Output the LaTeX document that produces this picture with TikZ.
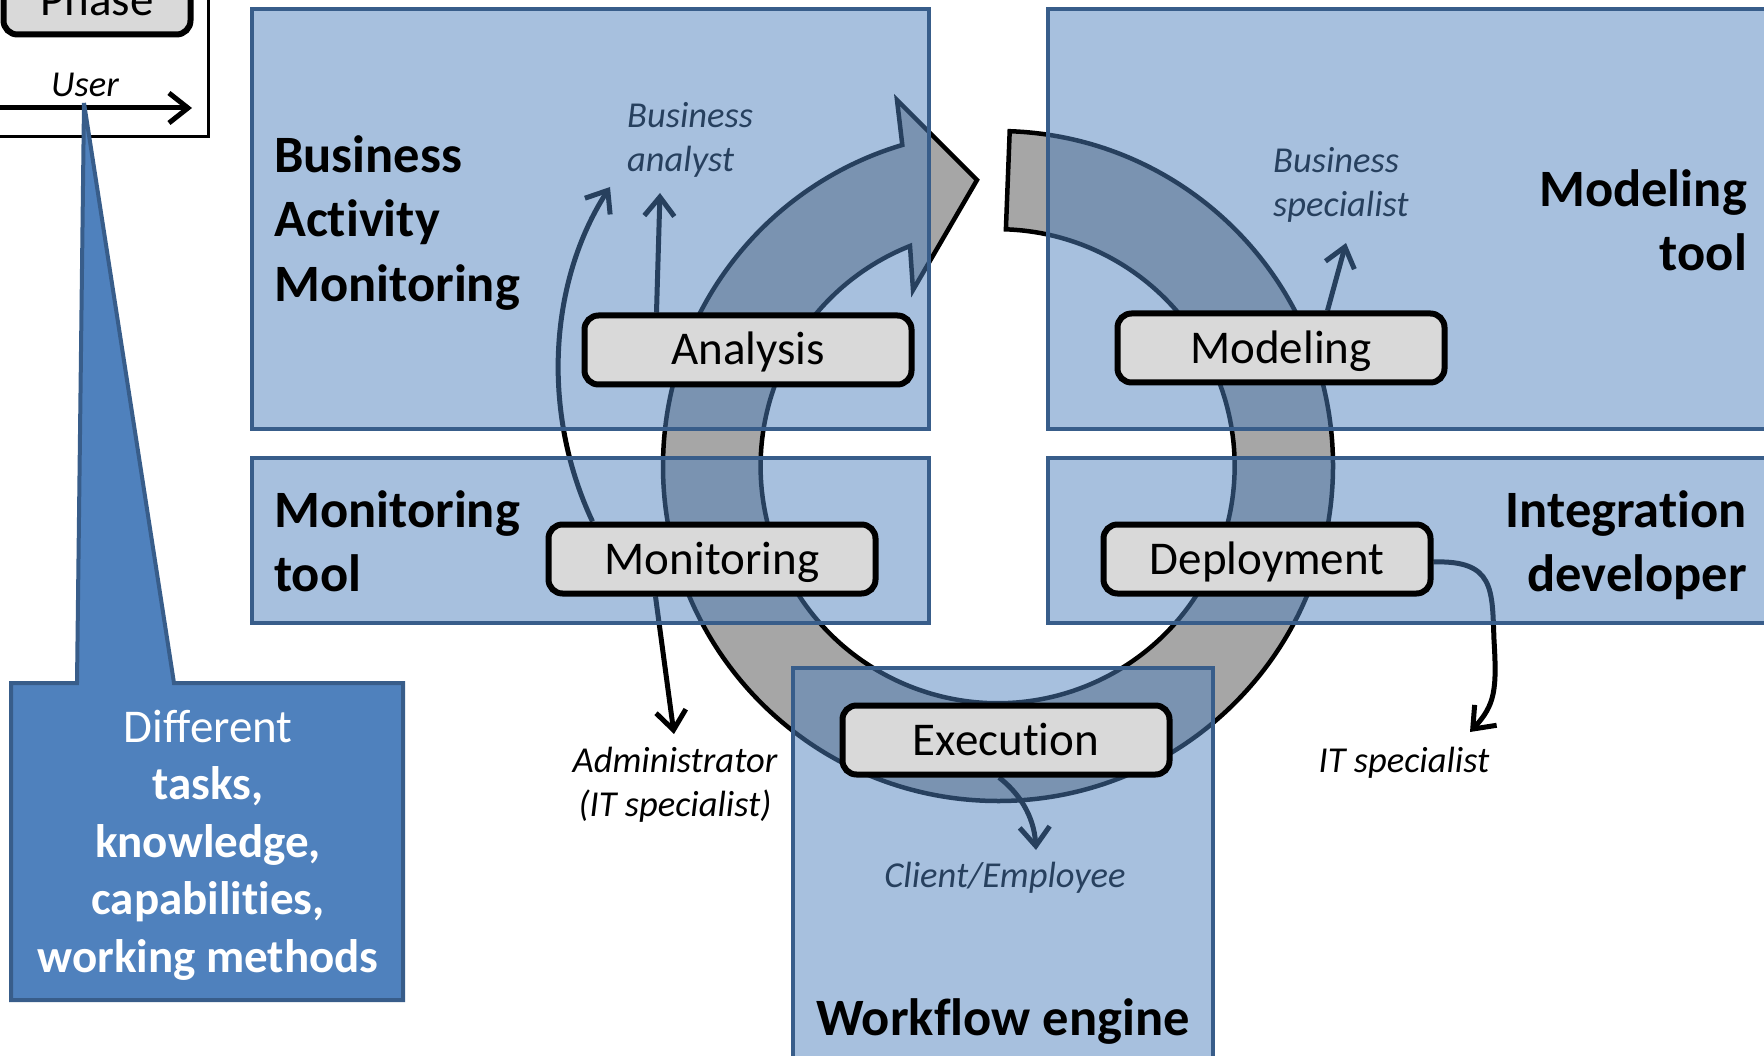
\documentclass[tikz,border=0pt]{standalone}
\usepackage{fontspec}
\setmainfont{Carlito}[Ligatures=NoCommon]
\usetikzlibrary{arrows.meta,calc}
\definecolor{boxfill}{HTML}{4F81BD}
\definecolor{boxline}{HTML}{385D8A}
\definecolor{ringfill}{HTML}{A6A6A6}
\definecolor{phasefill}{HTML}{D9D9D9}
\pgfdeclarelayer{ringlayer}
\pgfdeclarelayer{annolayer}
\pgfdeclarelayer{boxlayer}
\pgfsetlayers{ringlayer,annolayer,boxlayer,main}
\newcommand\tstrut{\rule{0pt}{0.8em}}
\tikzset{
  phasebox/.style={draw=black, line width=6pt, fill=phasefill, rounded corners=14pt,
    minimum width=327pt, minimum height=69pt, inner sep=0pt, text height=30pt, text depth=0pt,
    font=\fontsize{47}{57}\selectfont},
  region/.style={draw=boxline, line width=4.5pt, fill=boxfill, fill opacity=0.5, draw opacity=1},
  annot/.style={draw=black, line width=5pt, -{Straight Barb[length=19pt, width=30pt]}},
  roletext/.style={font=\fontsize{36.5}{44.5}\selectfont\itshape, inner sep=0pt},
  titletext/.style={font=\fontsize{52.5}{64.5}\selectfont\bfseries, inner sep=0pt},
  callouttext/.style={font=\fontsize{47}{57.5}\selectfont, text=white, inner sep=0pt, align=center}
}
\begin{document}
\begin{tikzpicture}[x=1pt, y=-1pt]
\useasboundingbox (0,0) rectangle (1764,1056);

% ---------------- ring arrow ----------------
\begin{pgfonlayer}{ringlayer}
\coordinate (C) at (998,466);
\path[draw=black, line width=4.5pt, fill=ringfill, line join=miter]
  (C) ++(-88:335) arc[start angle=-88, end angle=253.4, radius=335]
  -- (897,100) -- (977,180) -- (913,290) -- (910,246)
  arc[start angle=248.3, end angle=-88, radius=237] -- cycle;
\end{pgfonlayer}

% ---------------- phase nodes ----------------
\node[phasebox] (ana) at (748,350) {Analysis};
\node[phasebox] (mod) at (1281,348) {Modeling};
\node[phasebox] (mon) at (712,559) {Monitoring};
\node[phasebox] (dep) at (1267,559) {Deployment};
\node[phasebox] (exe) at (1006,740) {Execution};

% ---------------- titles ----------------
\node[titletext, align=left, anchor=north west] (tbam) at (274,130) {\tstrut Business\\Activity\\Monitoring};
\node[titletext, align=right, anchor=north east] (tmod) at (1747,164) {\tstrut Modeling\\tool};
\node[titletext, align=left, anchor=north west] (tmon) at (274,485) {\tstrut Monitoring\\tool};
\node[titletext, align=right, anchor=north east] (tint) at (1747,485) {\tstrut Integration\\developer};
\node[titletext, anchor=base] (twf) at (1003,1035) {Workflow engine};

% ---------------- roles and their arrows (under the boxes) ----------------
\begin{pgfonlayer}{annolayer}
\node[roletext, align=left, anchor=north west] (rba) at (627,98) {\tstrut Business\\analyst};
\node[roletext, align=left, anchor=north west] (rbs) at (1273,143) {\tstrut Business\\specialist};
\node[roletext, align=center, anchor=north] (radm) at (675,743) {\tstrut Administrator\\(IT specialist)};
\node[roletext, anchor=base] (rit) at (1404,772) {IT specialist};
\node[roletext, anchor=base] (rcl) at (1005,887) {Client/Employee};

\coordinate (ba1) at (610,187);
\coordinate (ba2) at (660,193);
\coordinate (bs) at (1346,243);
\coordinate (adm) at (674,734);
\coordinate (cli) at (1036,850);
\coordinate (its) at (1470,732);

\draw[annot] ($(mon.north west)+(47,0)$) .. controls (540,410) and (550,280) .. (ba1);
\draw[annot] ($(ana.north west)+(75,0)$) -- (ba2);
\draw[annot] ($(mod.north west)+(213,0)$) -- (bs);
\draw[annot] ($(mon.south west)+(110,0)$) -- (adm);
\draw[annot] ($(exe.south)+(-7,0)$) .. controls (1018,792) and (1034,815) .. (cli);
\draw[annot] ($(dep.east)+(0,3)$) .. controls (1495,560) and (1492,590) .. (1494,640)
  .. controls (1497,690) and (1495,705) .. (its);
\end{pgfonlayer}

% ---------------- semi-transparent regions ----------------
\begin{pgfonlayer}{boxlayer}
\path[region] (252,9) rectangle (929,429);
\path[region] (1048,9) rectangle (1800,429);
\path[region] (252,458) rectangle (929,623);
\path[region] (1048,458) rectangle (1800,623);
\path[region] (793,668) rectangle (1213,1090);
\end{pgfonlayer}

% ---------------- legend ----------------
\draw[line width=3pt] (-20,-20) rectangle (208,137);
\node[phasebox, minimum width=187pt, minimum height=67pt] (ph) at (97,1) {Phase};
\coordinate (u0) at (-20,108);
\coordinate (u1) at (192,108);
\draw[annot] (u0) -- (u1);
\node[roletext, anchor=base] (user) at (85,97) {User};

% ---------------- callout ----------------
\path[draw=boxline, fill=boxfill, line width=4pt]
  (11,683) -- (77,683) -- (84,103) -- (174,683) -- (403,683) -- (403,1000) -- (11,1000) -- cycle;
\node[callouttext, anchor=north] (diff) at (208,704.4)
  {\tstrut Different\\\textbf{tasks,}\\\textbf{knowledge,}\\\textbf{capabilities,}\\\textbf{working methods}};
\end{tikzpicture}
\end{document}
